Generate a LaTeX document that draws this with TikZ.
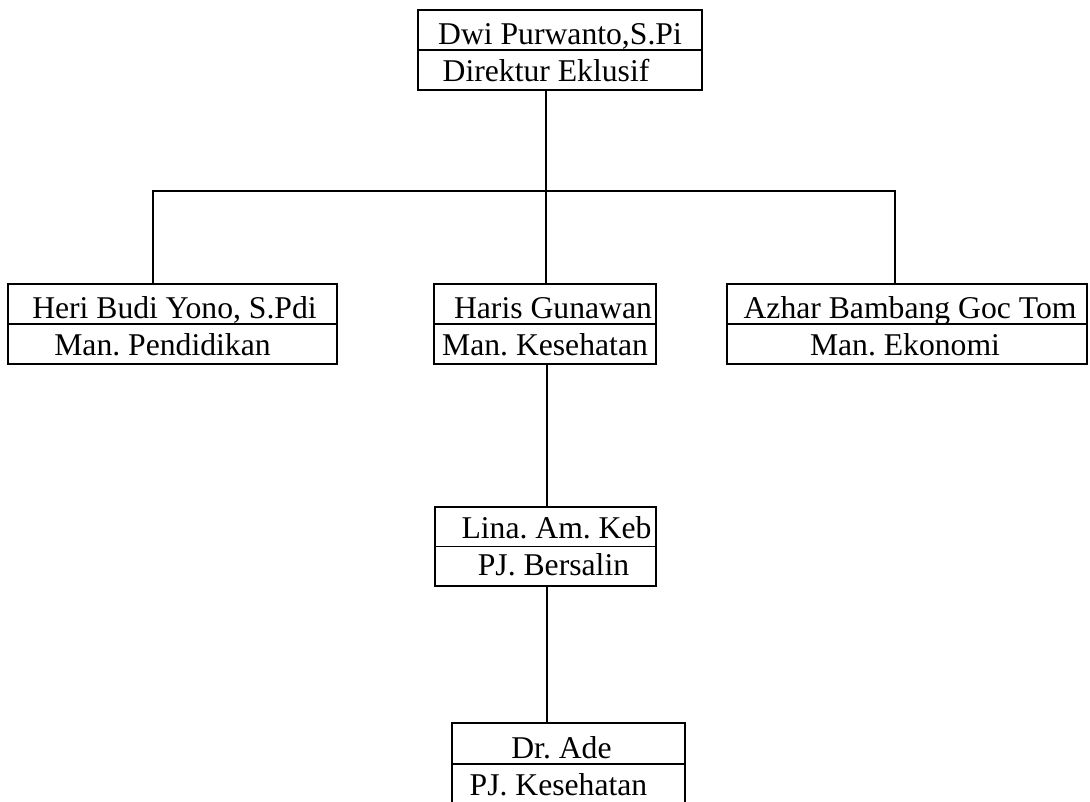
\documentclass[tikz,border=0pt]{standalone}
\usepackage{fontspec}
\setmainfont{Liberation Serif}
\usetikzlibrary{calc}
\frenchspacing
\tikzset{
  orgbox/.style={draw, line width=1pt, inner sep=0pt, minimum height=60pt},
  orgline/.style={line width=1pt},
  namelbl/.style={anchor=base, inner sep=0pt, font=\fontsize{23.75}{28}\selectfont}
}

\begin{document}
\begin{tikzpicture}[x=0.75pt, y=-0.75pt]
  \useasboundingbox (0,0) rectangle (1090,801);
  % boxes
  \node[orgbox, minimum width=213pt] (dir) at (560,50) {};
  \node[orgbox, minimum width=246.75pt] (pend) at (172.5,324) {};
  \node[orgbox, minimum width=166.5pt] (kes) at (545,324) {};
  \node[orgbox, minimum width=270pt] (eko) at (907,324) {};
  \node[orgbox, minimum width=165.75pt, minimum height=59.25pt] (bers) at (545.5,546.5) {};
  \node[orgbox, minimum width=174.75pt, minimum height=61.5pt] (ade) at (568.5,764) {};
  \foreach \b in {dir,pend,kes,eko,bers,ade}
    \draw[orgline] (\b.west) -- (\b.east);
  % labels
  \node[namelbl] (dirName) at ($(dir.center)+(0,-6)$) {Dwi Purwanto,S.Pi};
  \node[namelbl] (dirRole) at ($(dir.center)+(-14,31)$) {Direktur Eklusif};
  \node[namelbl] (pendName) at ($(pend.center)+(2,-6)$) {Heri Budi Yono, S.Pdi};
  \node[namelbl] (pendRole) at ($(pend.center)+(-10,31)$) {Man. Pendidikan};
  \node[namelbl] (kesName) at ($(kes.center)+(8,-6)$) {Haris Gunawan};
  \node[namelbl] (kesRole) at ($(kes.center)+(0,31)$) {Man. Kesehatan};
  \node[namelbl] (ekoName) at ($(eko.center)+(3,-6)$) {Azhar Bambang Goc Tom};
  \node[namelbl] (ekoRole) at ($(eko.center)+(-2,31)$) {Man. Ekonomi};
  \node[namelbl] (bersName) at ($(bers.center)+(11,-8)$) {Lina. Am. Keb};
  \node[namelbl] (bersRole) at ($(bers.center)+(8,29)$) {PJ. Bersalin};
  \node[namelbl] (adeName) at ($(ade.center)+(-7,-6)$) {Dr. Ade};
  \node[namelbl] (adeRole) at ($(ade.center)+(-10,31)$) {PJ. Kesehatan};
  % connectors
  \coordinate (busL) at (153,191);
  \coordinate (hub) at (546,191);
  \coordinate (busR) at (895,191);
  \coordinate (spine) at (547,0);
  \draw[orgline] (busL |- pend.north) -- (busL) -- (busR) -- (busR |- eko.north);
  \draw[orgline] (dir.south -| hub) -- (hub) -- (hub |- kes.north);
  \draw[orgline] (kes.south -| spine) -- (spine |- bers.north);
  \draw[orgline] (bers.south -| spine) -- (spine |- ade.north);
\end{tikzpicture}
\end{document}
